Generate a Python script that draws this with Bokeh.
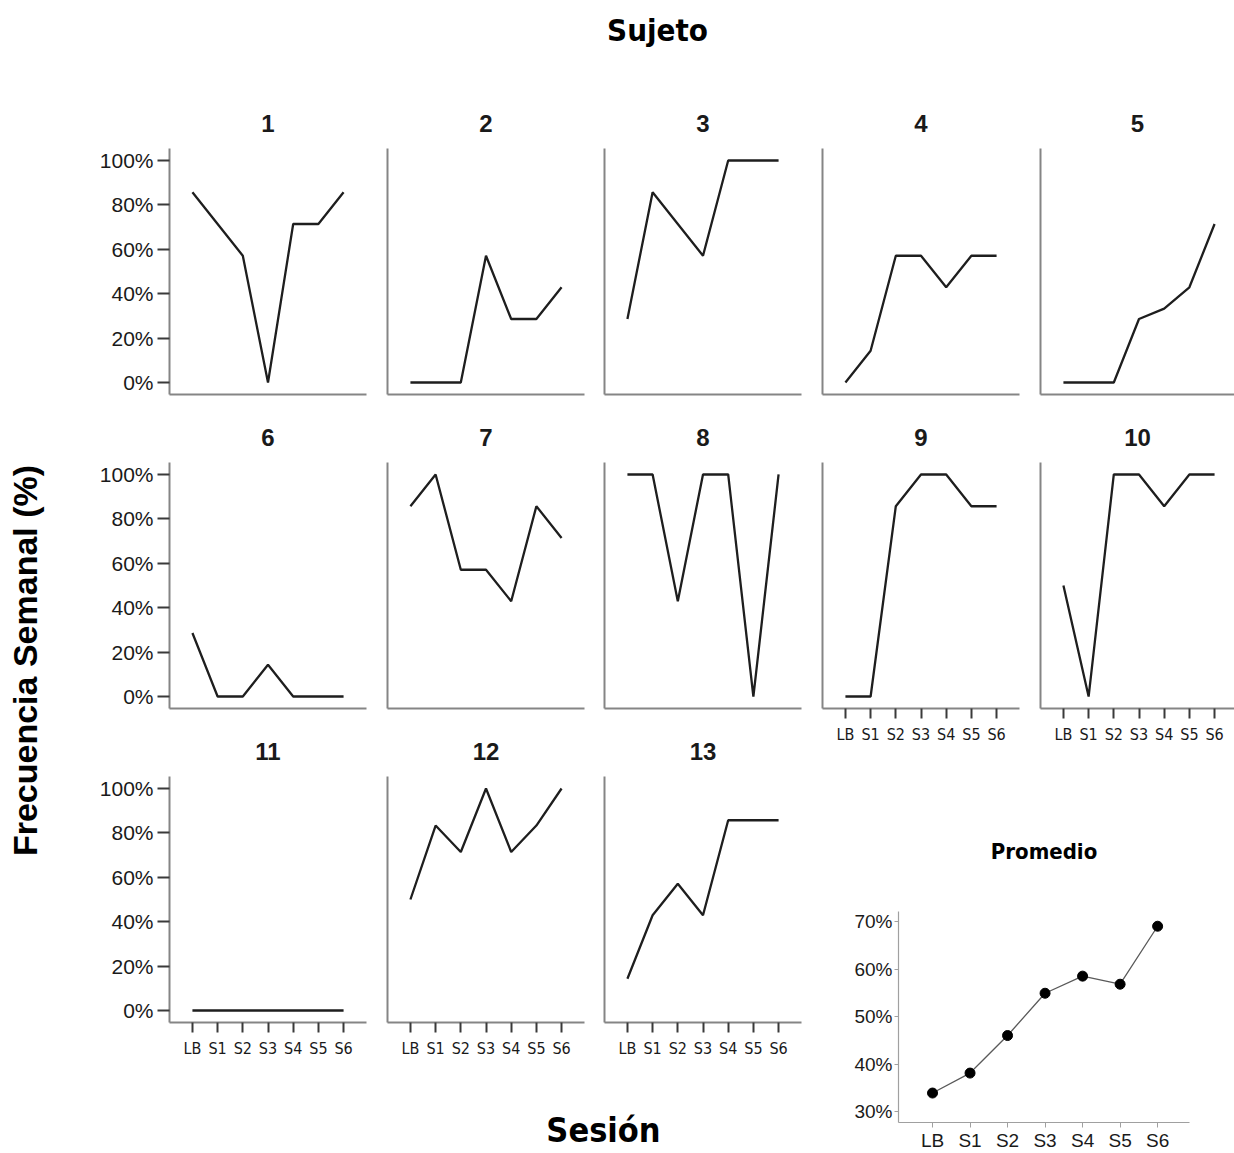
from math import pi
from bokeh.plotting import figure
from bokeh.layouts import row, column
from bokeh.models import FixedTicker, Label, PrintfTickFormatter
from bokeh.embed import file_html
from bokeh.resources import INLINE

# ---------------- data ----------------
sessions = ["LB", "S1", "S2", "S3", "S4", "S5", "S6"]
subject_ids = ["1", "2", "3", "4", "5", "6", "7", "8", "9", "10", "11", "12", "13"]
suj1 = [85.7, 71.4, 57.1, 0.0, 71.4, 71.4, 85.7]
suj2 = [0.0, 0.0, 0.0, 57.1, 28.6, 28.6, 42.9]
suj3 = [28.6, 85.7, 71.4, 57.1, 100.0, 100.0, 100.0]
suj4 = [0.0, 14.3, 57.1, 57.1, 42.9, 57.1, 57.1]
suj5 = [0.0, 0.0, 0.0, 28.6, 33.3, 42.9, 71.4]
suj6 = [28.6, 0.0, 0.0, 14.3, 0.0, 0.0, 0.0]
suj7 = [85.7, 100.0, 57.1, 57.1, 42.9, 85.7, 71.4]
suj8 = [100.0, 100.0, 42.9, 100.0, 100.0, 0.0, 100.0]
suj9 = [0.0, 0.0, 85.7, 100.0, 100.0, 85.7, 85.7]
suj10 = [50.0, 0.0, 100.0, 100.0, 85.7, 100.0, 100.0]
suj11 = [0.0, 0.0, 0.0, 0.0, 0.0, 0.0, 0.0]
suj12 = [50.0, 83.3, 71.4, 100.0, 71.4, 83.3, 100.0]
suj13 = [14.3, 42.9, 57.1, 42.9, 85.7, 85.7, 85.7]
promedio = [33.9, 38.1, 46.0, 54.9, 58.5, 56.8, 69.0]
y_ticks_small = [0, 20, 40, 60, 80, 100]
y_ticks_prom = [30, 40, 50, 60, 70]

xs = list(range(len(sessions)))
labels_map = {i: s for i, s in enumerate(sessions)}

FONT = "Liberation Sans"
NARROW = "DejaVu Sans Condensed"
AXIS_COL = "#858585"
TEXT_COL = "#1a1a1a"


def blank(w, h):
    p = figure(width=w, height=h, x_range=(0, w), y_range=(0, h),
               x_axis_location=None, y_axis_location=None,
               output_backend="svg", toolbar_location=None,
               min_border=0)
    p.xgrid.visible = False
    p.ygrid.visible = False
    p.outline_line_color = None
    p.background_fill_color = None
    p.border_fill_color = None
    return p


MT = 66      # top border of small panels
FH = 246     # frame height of small panels
MB0 = 2      # bottom border of panels without x labels
MB1 = 38     # bottom border of panels with x labels
HEAD = 148 - MT


def panel(vals, title, left_lab, bottom_lab, ml, fw, mr, xend):
    mb = MB1 if bottom_lab else MB0
    p = figure(width=ml + fw + mr, height=MT + FH + mb,
               x_range=(-0.91, xend), y_range=(-5.4, 105.4),
               output_backend="svg", toolbar_location=None,
               min_border_left=ml, min_border_right=mr,
               min_border_top=MT, min_border_bottom=mb, title=title)
    p.title.align = "center"
    p.title.text_font = FONT
    p.title.text_font_size = "24px"
    p.title.text_font_style = "bold"
    p.title.text_color = TEXT_COL
    p.title.standoff = 33
    p.xgrid.visible = False
    p.ygrid.visible = False
    p.outline_line_color = None
    for ax in (p.xaxis[0], p.yaxis[0]):
        ax.axis_line_color = AXIS_COL
        ax.axis_line_width = 2
        ax.minor_tick_line_color = None
        ax.major_tick_in = 0
        ax.major_tick_line_color = "#3a3a3a"
        ax.major_tick_line_width = 2
        ax.major_label_text_color = TEXT_COL
    if left_lab:
        p.yaxis.ticker = FixedTicker(ticks=y_ticks_small)
        p.yaxis.formatter = PrintfTickFormatter(format="%d%%")
        p.yaxis.major_tick_out = 12
        p.yaxis.major_label_standoff = 4
        p.yaxis.major_label_text_font = FONT
        p.yaxis.major_label_text_font_size = "21px"
    else:
        p.yaxis.ticker = FixedTicker(ticks=[])
        p.yaxis.major_tick_out = 0
        p.yaxis.major_label_standoff = 0
    if bottom_lab:
        p.xaxis.ticker = FixedTicker(ticks=xs)
        p.xaxis.major_label_overrides = labels_map
        p.xaxis.major_tick_out = 10
        p.xaxis.major_label_standoff = 6
        p.xaxis.major_label_text_font = NARROW
        p.xaxis.major_label_text_font_size = "16px"
    else:
        p.xaxis.ticker = FixedTicker(ticks=[])
        p.xaxis.major_tick_out = 0
        p.xaxis.major_label_standoff = 0
    p.line(xs, vals, line_color="#1e1e1e", line_width=2.3)
    return p


FW = 197
XEND = 6.91
XEND5 = -0.91 + 194 / (FW / 7.82)

# header
header = blank(1234, HEAD)
header.add_layout(Label(x=657, y=HEAD - 29, text="Sujeto", text_align="center",
                        text_baseline="middle", text_font=NARROW,
                        text_font_size="31px", text_font_style="bold",
                        text_color="black"))

MAIN_H = 1153 - HEAD

# left label figure
left = blank(90, MAIN_H)
left.add_layout(Label(x=24, y=MAIN_H - (660 - HEAD), text="Frecuencia Semanal (%)",
                      angle=pi / 2, text_align="center", text_baseline="middle",
                      text_font=FONT, text_font_size="34px",
                      text_font_style="bold", text_color="black"))

# left group (columns 1-3)
p1 = panel(suj1, subject_ids[0], True, False, 79, FW, 11, XEND)
p2 = panel(suj2, subject_ids[1], False, False, 10, FW, 10, XEND)
p3 = panel(suj3, subject_ids[2], False, False, 10, FW, 11, XEND)
p6 = panel(suj6, subject_ids[5], True, False, 79, FW, 11, XEND)
p7 = panel(suj7, subject_ids[6], False, False, 10, FW, 10, XEND)
p8 = panel(suj8, subject_ids[7], False, False, 10, FW, 11, XEND)
p11 = panel(suj11, subject_ids[10], True, True, 79, FW, 11, XEND)
p12 = panel(suj12, subject_ids[11], False, True, 10, FW, 10, XEND)
p13 = panel(suj13, subject_ids[12], False, True, 10, FW, 11, XEND)

rows_h = 2 * (MT + FH + MB0) + (MT + FH + MB1)
ses_h = MAIN_H - rows_h
ses_top = HEAD + rows_h
sesion = blank(722, ses_h)
sesion.add_layout(Label(x=513, y=ses_h - (1129 - ses_top), text="Sesión",
                        text_align="center", text_baseline="middle",
                        text_font=NARROW, text_font_size="34px",
                        text_font_style="bold", text_color="black"))

left_group = column(row(p1, p2, p3), row(p6, p7, p8), row(p11, p12, p13), sesion)

# right group (columns 4-5)
p4 = panel(suj4, subject_ids[3], False, False, 10, FW, 11, XEND)
p5 = panel(suj5, subject_ids[4], False, False, 10, 194, 0, XEND5)
p9 = panel(suj9, subject_ids[8], False, True, 10, FW, 11, XEND)
p10 = panel(suj10, subject_ids[9], False, True, 10, 194, 0, XEND5)

right_rows_h = (MT + FH + MB0) + (MT + FH + MB1)
pp_h = MAIN_H - right_rows_h
pp_top = 911 - (HEAD + right_rows_h)
pp = figure(width=422, height=pp_h, x_range=(-0.907, 6.85), y_range=(27.7, 72.1),
            output_backend="svg", toolbar_location=None,
            min_border_left=86, min_border_right=45,
            min_border_top=pp_top, min_border_bottom=30, title="Promedio")
pp.title.align = "center"
pp.title.text_font = NARROW
pp.title.text_font_size = "22px"
pp.title.text_font_style = "bold"
pp.title.text_color = "black"
pp.title.standoff = 96
pp.xgrid.visible = False
pp.ygrid.visible = False
pp.outline_line_color = None
for ax in (pp.xaxis[0], pp.yaxis[0]):
    ax.axis_line_color = "#a0a0a0"
    ax.axis_line_width = 1.2
    ax.minor_tick_line_color = None
    ax.major_tick_in = 0
    ax.major_tick_line_color = "#a0a0a0"
    ax.major_tick_line_width = 1
    ax.major_label_text_color = TEXT_COL
    ax.major_label_text_font = FONT
    ax.major_label_text_font_size = "19px"
pp.yaxis.ticker = FixedTicker(ticks=y_ticks_prom)
pp.yaxis.formatter = PrintfTickFormatter(format="%d%%")
pp.yaxis.major_tick_out = 4
pp.yaxis.major_label_standoff = 2
pp.xaxis.ticker = FixedTicker(ticks=xs)
pp.xaxis.major_label_overrides = labels_map
pp.xaxis.major_tick_out = 5
pp.xaxis.major_label_standoff = 2
pp.line(xs, promedio, line_color="#5a5a5a", line_width=1.3)
pp.scatter(xs, promedio, size=10, fill_color="black", line_color="black")

right_group = column(row(p4, p5), row(p9, p10), pp)

layout = column(header, row(left, left_group, right_group))

open("out.html", "w").write(file_html(layout, INLINE))
